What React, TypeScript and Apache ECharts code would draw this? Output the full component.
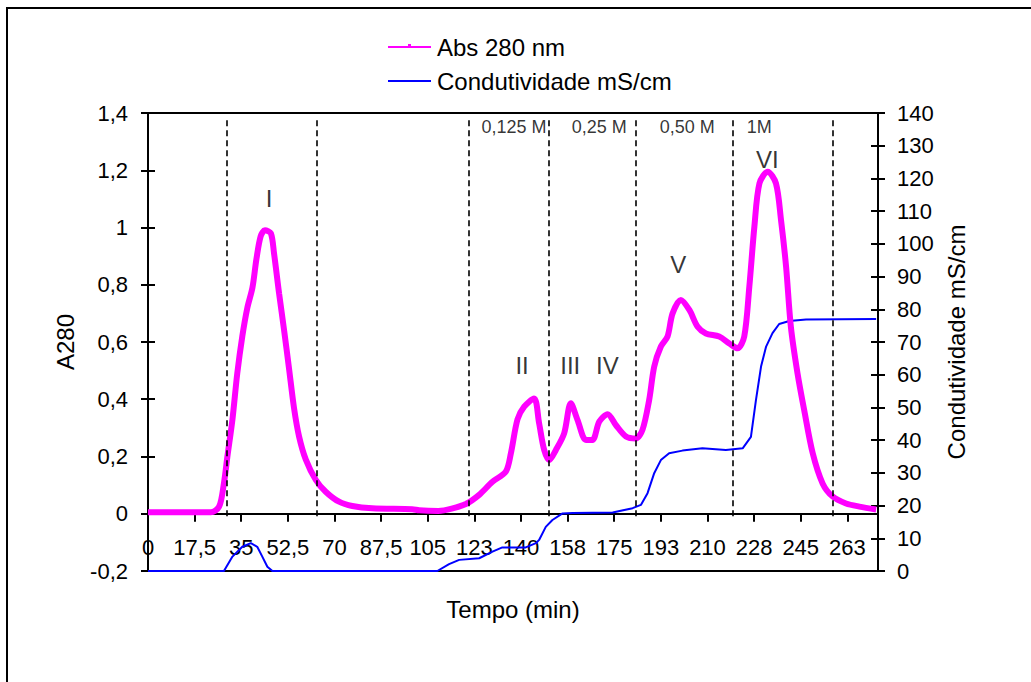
import React, { useEffect, useRef } from "react";
import * as echarts from "echarts";

const xTickLabels = ["0", "17,5", "35", "52,5", "70", "87,5", "105", "123", "140", "158", "175", "193", "210", "228", "245", "263"];

const absTime = [0, 23.5, 26.7, 28.5, 29.8, 31.7, 33.5, 35.4, 37.3, 39.2, 40.7, 42.3, 43.9, 46.1, 47.3, 49.2, 51.1, 52.9, 54.8, 56.7, 59.2, 63, 66.7, 71.7, 76.7, 84.2, 99.2, 101.8, 109, 114, 119.3, 124.3, 129.3, 134.3, 136.2, 138.7, 141.2, 144.9, 146.8, 148.7, 150.6, 153.1, 156.2, 158.7, 161.2, 164.4, 166.8, 169.4, 172.5, 175.6, 179.4, 183.1, 185.6, 188.1, 190, 192.5, 195, 196.9, 200, 203.2, 206.3, 209.4, 214.4, 218.2, 221.3, 223.8, 225.7, 227.6, 229.5, 232.6, 235.7, 237.6, 239.5, 241.3, 243.8, 246.3, 249.5, 253.2, 257, 262, 267, 273.3];
const absValue = [0.005, 0.005, 0.025, 0.107, 0.2, 0.33, 0.49, 0.62, 0.72, 0.79, 0.89, 0.97, 0.99, 0.98, 0.91, 0.77, 0.64, 0.51, 0.37, 0.27, 0.19, 0.118, 0.077, 0.042, 0.027, 0.019, 0.016, 0.012, 0.01, 0.018, 0.034, 0.066, 0.112, 0.147, 0.211, 0.33, 0.374, 0.403, 0.316, 0.223, 0.188, 0.223, 0.281, 0.386, 0.328, 0.258, 0.258, 0.322, 0.348, 0.31, 0.27, 0.263, 0.293, 0.397, 0.514, 0.584, 0.619, 0.7, 0.747, 0.712, 0.653, 0.63, 0.619, 0.595, 0.578, 0.619, 0.793, 1.003, 1.154, 1.195, 1.154, 1.026, 0.863, 0.653, 0.49, 0.362, 0.211, 0.106, 0.06, 0.036, 0.025, 0.015];

const condTime = [0, 28.5, 31.7, 35.4, 38.6, 41, 42.9, 44.8, 46.7, 108.6, 113, 116.8, 124.3, 129.3, 133, 141.8, 145.6, 146.8, 149.3, 151.8, 155.6, 159.3, 174.4, 181.9, 185, 187.5, 190, 192.5, 195.6, 200.6, 208.1, 216.9, 223.2, 226.3, 228.2, 230.1, 232, 234.4, 236.9, 240.7, 247, 273.3];
const condValue = [0, 0, 4.4, 7.4, 8.5, 7.4, 4.4, 1.3, 0, 0, 2.1, 3.4, 3.9, 5.9, 7.2, 7.2, 8.5, 9.5, 13.5, 15.6, 17.6, 17.7, 17.9, 19.2, 20.2, 23.8, 29.9, 33.9, 36, 36.8, 37.5, 37, 37.5, 41, 52.3, 62.5, 68.6, 72.7, 75.5, 76.4, 76.9, 77];

const dividerTimes = [29.7, 63.5, 120.5, 150.6, 182.9, 219.3, 257.2];
const dividerTop = 1.375;
const dividerBottom = -0.015;

const peakNames = ["I", "II", "III", "IV", "V", "VI"];
const peakTime = [45.4, 140.4, 158.5, 172.4, 199, 232.5];
const peakLevel = [1.103, 0.519, 0.519, 0.519, 0.869, 1.236];

const bufferNames = ["0,125 M", "0,25 M", "0,50 M", "1M"];
const bufferTime = [137.4, 169.4, 202.4, 229.4];
const bufferLevel = [1.351, 1.351, 1.351, 1.351];

const FONT = "Arial, 'Liberation Sans', sans-serif";

export default function App() {
  const ref = useRef<HTMLDivElement>(null);
  useEffect(() => {
    if (!ref.current) return;
    const chart = echarts.init(ref.current, undefined, { renderer: "svg" });
    const fmtDec = (v: number) => String(Math.round(v * 10) / 10).replace(".", ",");
    const absData = absTime.map((t, i) => [t, absValue[i]]);
    const condData = condTime.map((t, i) => [t, condValue[i]]);
    const dividers = dividerTimes.map((t) => [{ coord: [t, dividerTop] }, { coord: [t, dividerBottom] }]);
    const peaks = peakNames.map((n, i) => ({ name: n, value: [peakTime[i], peakLevel[i]] }));
    const buffers = bufferNames.map((n, i) => ({ name: n, value: [bufferTime[i], bufferLevel[i]] }));

    const yBase = {
      type: "value",
      splitLine: { show: false },
      axisLine: { show: true, lineStyle: { color: "#000", width: 2 } },
      axisTick: { show: true, length: 7, lineStyle: { color: "#000", width: 2 } },
    };

    chart.setOption({
      animation: false,
      backgroundColor: "#fff",
      textStyle: { fontFamily: FONT },
      grid: { left: 148, right: 153, top: 113, bottom: 111, show: true, borderColor: "#000", borderWidth: 2, backgroundColor: "transparent" },
      xAxis: {
        type: "value",
        min: 0,
        max: 274,
        interval: 17.5,
        offset: -57.25,
        name: "Tempo (min)",
        nameLocation: "middle",
        nameGap: 84,
        nameTextStyle: { fontSize: 24, color: "#000", fontFamily: FONT },
        splitLine: { show: false },
        axisLine: { show: true, onZero: false, lineStyle: { color: "#000", width: 2 } },
        axisTick: { show: true, length: 8, lineStyle: { color: "#000", width: 2 } },
        axisLabel: {
          show: true,
          margin: 23,
          fontSize: 22,
          color: "#000",
          fontFamily: FONT,
          showMaxLabel: false,
          formatter: (v: number) => {
            const idx = Math.round(v / 17.5);
            return Math.abs(idx * 17.5 - v) < 0.01 && xTickLabels[idx] !== undefined ? xTickLabels[idx] : "";
          },
        },
      },
      yAxis: [
        {
          ...yBase,
          position: "left",
          min: -0.2,
          max: 1.4,
          interval: 0.2,
          name: "A280",
          nameLocation: "middle",
          nameRotate: 90,
          nameGap: 71,
          nameTextStyle: { fontSize: 24, color: "#000", fontFamily: FONT },
          axisLabel: { margin: 20, fontSize: 22, color: "#000", fontFamily: FONT, formatter: fmtDec },
        },
        {
          ...yBase,
          position: "right",
          min: 0,
          max: 140,
          interval: 10,
          name: "Condutividade mS/cm",
          nameLocation: "middle",
          nameRotate: 90,
          nameGap: 64,
          nameTextStyle: { fontSize: 24, color: "#000", fontFamily: FONT },
          axisLabel: { margin: 19, fontSize: 22, color: "#000", fontFamily: FONT },
        },
        {
          ...yBase,
          position: "left",
          min: -0.2,
          max: 1.4,
          interval: 0.2,
          axisLine: { show: false },
          axisTick: { show: true, inside: true, length: 7, lineStyle: { color: "#000", width: 2 } },
          axisLabel: { show: false },
        },
        {
          ...yBase,
          position: "right",
          min: 0,
          max: 140,
          interval: 10,
          axisLine: { show: false },
          axisTick: { show: true, inside: true, length: 7, lineStyle: { color: "#000", width: 2 } },
          axisLabel: { show: false },
        },
      ],
      series: [
        {
          name: "dividers",
          type: "line",
          yAxisIndex: 0,
          data: [],
          silent: true,
          markLine: {
            silent: true,
            symbol: ["none", "none"],
            label: { show: false },
            lineStyle: { color: "#000", type: [6, 4], width: 1.6 },
            data: dividers,
          },
        },
        {
          name: "Condutividade mS/cm",
          type: "line",
          yAxisIndex: 1,
          data: condData,
          symbol: "none",
          lineStyle: { color: "#0000FF", width: 2 },
          itemStyle: { color: "#0000FF" },
        },
        {
          name: "Abs 280 nm",
          type: "line",
          yAxisIndex: 0,
          data: absData,
          symbol: "none",
          smooth: 0.3,
          lineStyle: { color: "#FF00FF", width: 6 },
          itemStyle: { color: "#FF00FF" },
        },
        {
          name: "peaks",
          type: "scatter",
          yAxisIndex: 0,
          data: peaks,
          symbolSize: 1,
          itemStyle: { color: "rgba(0,0,0,0)" },
          label: { show: true, position: "inside", formatter: "{b}", fontSize: 24, color: "#000", fontFamily: FONT },
        },
        {
          name: "buffers",
          type: "scatter",
          yAxisIndex: 0,
          data: buffers,
          symbolSize: 1,
          itemStyle: { color: "rgba(0,0,0,0)" },
          label: { show: true, position: "inside", formatter: "{b}", fontSize: 18, color: "#000", fontFamily: FONT },
        },
      ],
      graphic: [
        { type: "rect", silent: true, z: -10, shape: { x: 7, y: 8, width: 1100, height: 800 }, style: { fill: "none", stroke: "#000", lineWidth: 2 } },
        { type: "line", silent: true, shape: { x1: 388, y1: 47, x2: 431, y2: 47 }, style: { stroke: "#FF00FF", lineWidth: 2 } },
        { type: "rect", silent: true, shape: { x: 408, y: 44, width: 3, height: 4 }, style: { fill: "#FF00FF" } },
        { type: "text", silent: true, x: 437, y: 47, style: { text: "Abs 280 nm", font: `24px ${FONT}`, fill: "#000", verticalAlign: "middle" } },
        { type: "line", silent: true, shape: { x1: 388, y1: 81, x2: 431, y2: 81 }, style: { stroke: "#0000FF", lineWidth: 2 } },
        { type: "text", silent: true, x: 437, y: 81, style: { text: "Condutividade mS/cm", font: `24px ${FONT}`, fill: "#000", verticalAlign: "middle" } },
      ],
    });
    return () => chart.dispose();
  }, []);
  return <div ref={ref} style={{ position: "fixed", left: 0, top: 0, width: 1031, height: 682 }} />;
}
